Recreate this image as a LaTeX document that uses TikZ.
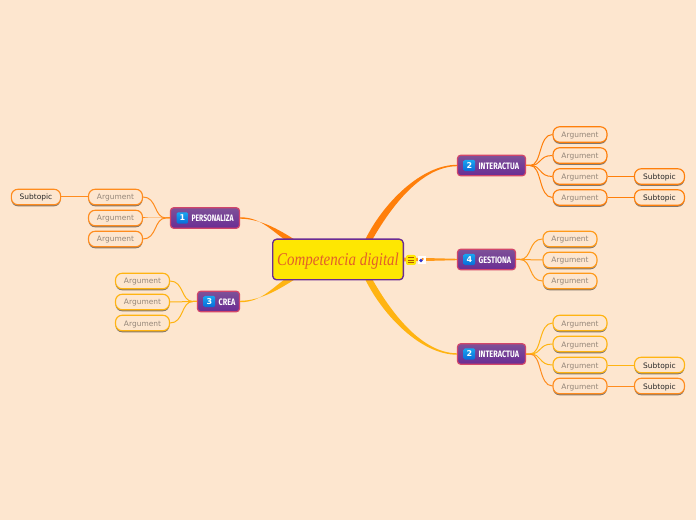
\documentclass[tikz,border=0pt]{standalone}
\usepackage{fontspec}
\setmainfont{DejaVu Sans}
\newfontfamily\titlefont{Liberation Serif}
\newfontfamily\topicfont{Fira Sans}
\usetikzlibrary{shadows,calc}
\definecolor{bg}{HTML}{FDE6CF}
\definecolor{oA}{HTML}{FF7F0A}
\definecolor{oB}{HTML}{FFB412}
\definecolor{oC}{HTML}{FF9A1A}
\definecolor{oD}{HTML}{FF8C1E}
\definecolor{purple1}{HTML}{7E5198}
\definecolor{purple2}{HTML}{6A2C94}
\definecolor{blue1}{HTML}{18A6F0}
\definecolor{blue2}{HTML}{0A6AD8}
\definecolor{crim}{HTML}{D2466A}
\definecolor{ctitle}{HTML}{E2602A}
\tikzset{
  x=0.75pt,y=-0.75pt,
  pill/.style={draw=#1,line width=0.85pt,rounded corners=5pt,fill=bg,minimum height=11.6pt,inner sep=0pt,
    font=\fontsize{5.6}{7}\selectfont,text height=5.3pt,text depth=0.8pt,
    general shadow={shadow xshift=0pt,shadow yshift=-1.2pt,fill=black!48!bg}},
  arg/.style={pill=#1,text=black!42!bg,minimum width=40.5pt},
  sub/.style={pill=#1,text=black!85,minimum width=37.5pt},
  topic/.style={draw=#1,line width=0.9pt,rounded corners=2.4pt,top color=purple1,bottom color=purple2,text=white,
    minimum height=15.4pt,inner sep=0pt},
  badge/.style={rounded corners=1pt,top color=blue1,bottom color=blue2,text=white,minimum size=8.5pt,inner sep=0pt,
    font=\fontsize{6}{7}\bfseries\selectfont},
  link/.style={draw=#1,line width=0.75pt},
  branch/.style={fill=#1,draw=none},
}
\newcommand{\topicbox}[6]{% name, x, y, width, badge number, label
  \node[topic=crim,minimum width=#4*0.75pt] (#1) at (#2,#3) {};
  \node[badge] (#1b) at ($(#1.west)+(12.5,0)$) {#5};
  \node[anchor=west,text=white,inner sep=0pt,font=\topicfont\bfseries\fontsize{7}{8}\selectfont] (#1t) at ($(#1b.east)+(3,0.5)$) {\scalebox{0.78}[1]{#6}};
}
\begin{document}
\begin{tikzpicture}
\useasboundingbox (0,0) rectangle (696,520);
\fill[bg] (0,0) rectangle (696,520);

% central topic anchor
\node[minimum width=98pt,minimum height=30.5pt,inner sep=0pt] (c) at (338,259.5) {};

\coordinate (cTR) at ($(c.north east)+(-36,3)$);
\coordinate (cBR) at ($(c.south east)+(-36,-3)$);
\coordinate (cTL) at ($(c.north west)+(21,3)$);
\coordinate (cBL) at ($(c.south west)+(21,-3)$);

\topicbox{ti}{491.5}{165.5}{68}{2}{INTERACTUA}
\topicbox{tg}{486.5}{259.5}{58}{4}{GESTIONA}
\topicbox{tj}{491.5}{354}{68}{2}{INTERACTUA}
\topicbox{tp}{205}{218}{69}{1}{\scalebox{0.93}[1]{PERSONALIZA}}
\topicbox{tc}{218.5}{301.5}{42}{3}{CREA}

% tapered main branches
\path[branch=oA] ($(cTR)+(-3.5,0)$) .. controls +(18,-38) and ($(ti.west)+(-36,-0.7)$) .. ($(ti.west)+(0,-0.7)$)
   -- ($(ti.west)+(0,0.7)$) .. controls ($(ti.west)+(-35,1)$) and +(20,-36) .. ($(cTR)+(3.5,0)$) -- cycle;
\path[branch=oB] ($(cBR)+(-3.5,0)$) .. controls +(18,38) and ($(tj.west)+(-36,0.7)$) .. ($(tj.west)+(0,0.7)$)
   -- ($(tj.west)+(0,-0.7)$) .. controls ($(tj.west)+(-35,-1)$) and +(20,36) .. ($(cBR)+(3.5,0)$) -- cycle;
\path[branch=oA] ($(cTL)+(5,0)$) .. controls +(-16,-10) and ($(tp.east)+(22,0.7)$) .. ($(tp.east)+(0,0.7)$)
   -- ($(tp.east)+(0,-0.7)$) .. controls ($(tp.east)+(22,-1)$) and +(-14,-8) .. ($(cTL)+(-5,0)$) -- cycle;
\path[branch=oB] ($(cBL)+(5,0)$) .. controls +(-16,10) and ($(tc.east)+(22,-0.7)$) .. ($(tc.east)+(0,-0.7)$)
   -- ($(tc.east)+(0,0.7)$) .. controls ($(tc.east)+(22,1)$) and +(-14,8) .. ($(cBL)+(-5,0)$) -- cycle;
\path[branch=oC] ($(c.east)+(0,-2)$) -- ($(tg.west)+(0,-0.7)$) -- ($(tg.west)+(0,0.7)$) -- ($(c.east)+(0,2)$) -- cycle;

% central box above the branches
\node[draw=purple2,line width=1pt,rounded corners=3pt,fill=yellow!90!orange,minimum width=98pt,minimum height=30.5pt,
  inner sep=0pt,text=ctitle,text height=9pt,text depth=0.5pt,font=\titlefont\itshape\fontsize{13.5}{15}\selectfont] (cc) at (c) {\scalebox{0.83}[1]{Competencia digital}};

% icons
\node[fill=yellow!90!orange,rounded corners=1.5pt,minimum size=7.5pt,inner sep=0pt] (note) at (411,260) {};
\draw[orange!70!black,line width=0.5pt] ($(note)+(-3,-2.5)$) -- ++(6,0) ($(note)+(-3,0)$) -- ++(6,0) ($(note)+(-3,2.5)$) -- ++(6,0);
\node[fill=white,minimum size=6pt,inner sep=0pt] (web) at (421.5,260) {};
\fill[blue!60!gray] ($(web)+(-0.5,0.5)$) circle (1.9);
\fill[orange] ($(web)+(1.2,-1)$) circle (1.1);

% top right
\foreach \n/\y in {a/134.5,b/155.5,e/176.5,d/197.5}{
  \node[arg=oA] (ti\n) at (580,\y) {Argument};
  \draw[link=oA] (ti.east) -- ++(4,0) .. controls +(12,0) and ($(ti\n.west)+(-14,0)$) .. (ti\n.west);
}
\node[sub=oA] (tis1) at (659.5,176.5) {Subtopic};
\node[sub=oA] (tis2) at (659.5,197.5) {Subtopic};
\draw[link=oA] (tie) -- (tis1);
\draw[link=oA] (tid) -- (tis2);

% Gestiona
\foreach \n/\y in {a/239,b/260,d/281}{
  \node[arg=oC] (tg\n) at (570,\y) {Argument};
  \draw[link=oC] (tg.east) -- ++(4,0) .. controls +(12,0) and ($(tg\n.west)+(-14,0)$) .. (tg\n.west);
}

% bottom right
\foreach \n/\y/\k in {a/323/oB,b/344/oB,e/365/oB,d/386/oD}{
  \node[arg=\k] (tj\n) at (580,\y) {Argument};
  \draw[link=\k] (tj.east) -- ++(4,0) .. controls +(12,0) and ($(tj\n.west)+(-14,0)$) .. (tj\n.west);
}
\node[sub=oB] (tjs1) at (659.5,365) {Subtopic};
\node[sub=oD] (tjs2) at (659.5,386) {Subtopic};
\draw[link=oB] (tje) -- (tjs1);
\draw[link=oD] (tjd) -- (tjs2);

% left top
\foreach \n/\y in {a/197,b/218,d/239}{
  \node[arg=oD] (tp\n) at (115.5,\y) {Argument};
  \draw[link=oD] (tp.west) -- ++(-4,0) .. controls +(-12,0) and ($(tp\n.east)+(14,0)$) .. (tp\n.east);
}
\node[sub=oD,minimum width=37pt] (tps) at (36,197) {Subtopic};
\draw[link=oD] (tpa) -- (tps);

% left bottom
\foreach \n/\y in {a/281,b/302,d/323}{
  \node[arg=oB] (tc\n) at (142.5,\y) {Argument};
  \draw[link=oB] (tc.west) -- ++(-4,0) .. controls +(-12,0) and ($(tc\n.east)+(14,0)$) .. (tc\n.east);
}
\end{tikzpicture}
\end{document}
